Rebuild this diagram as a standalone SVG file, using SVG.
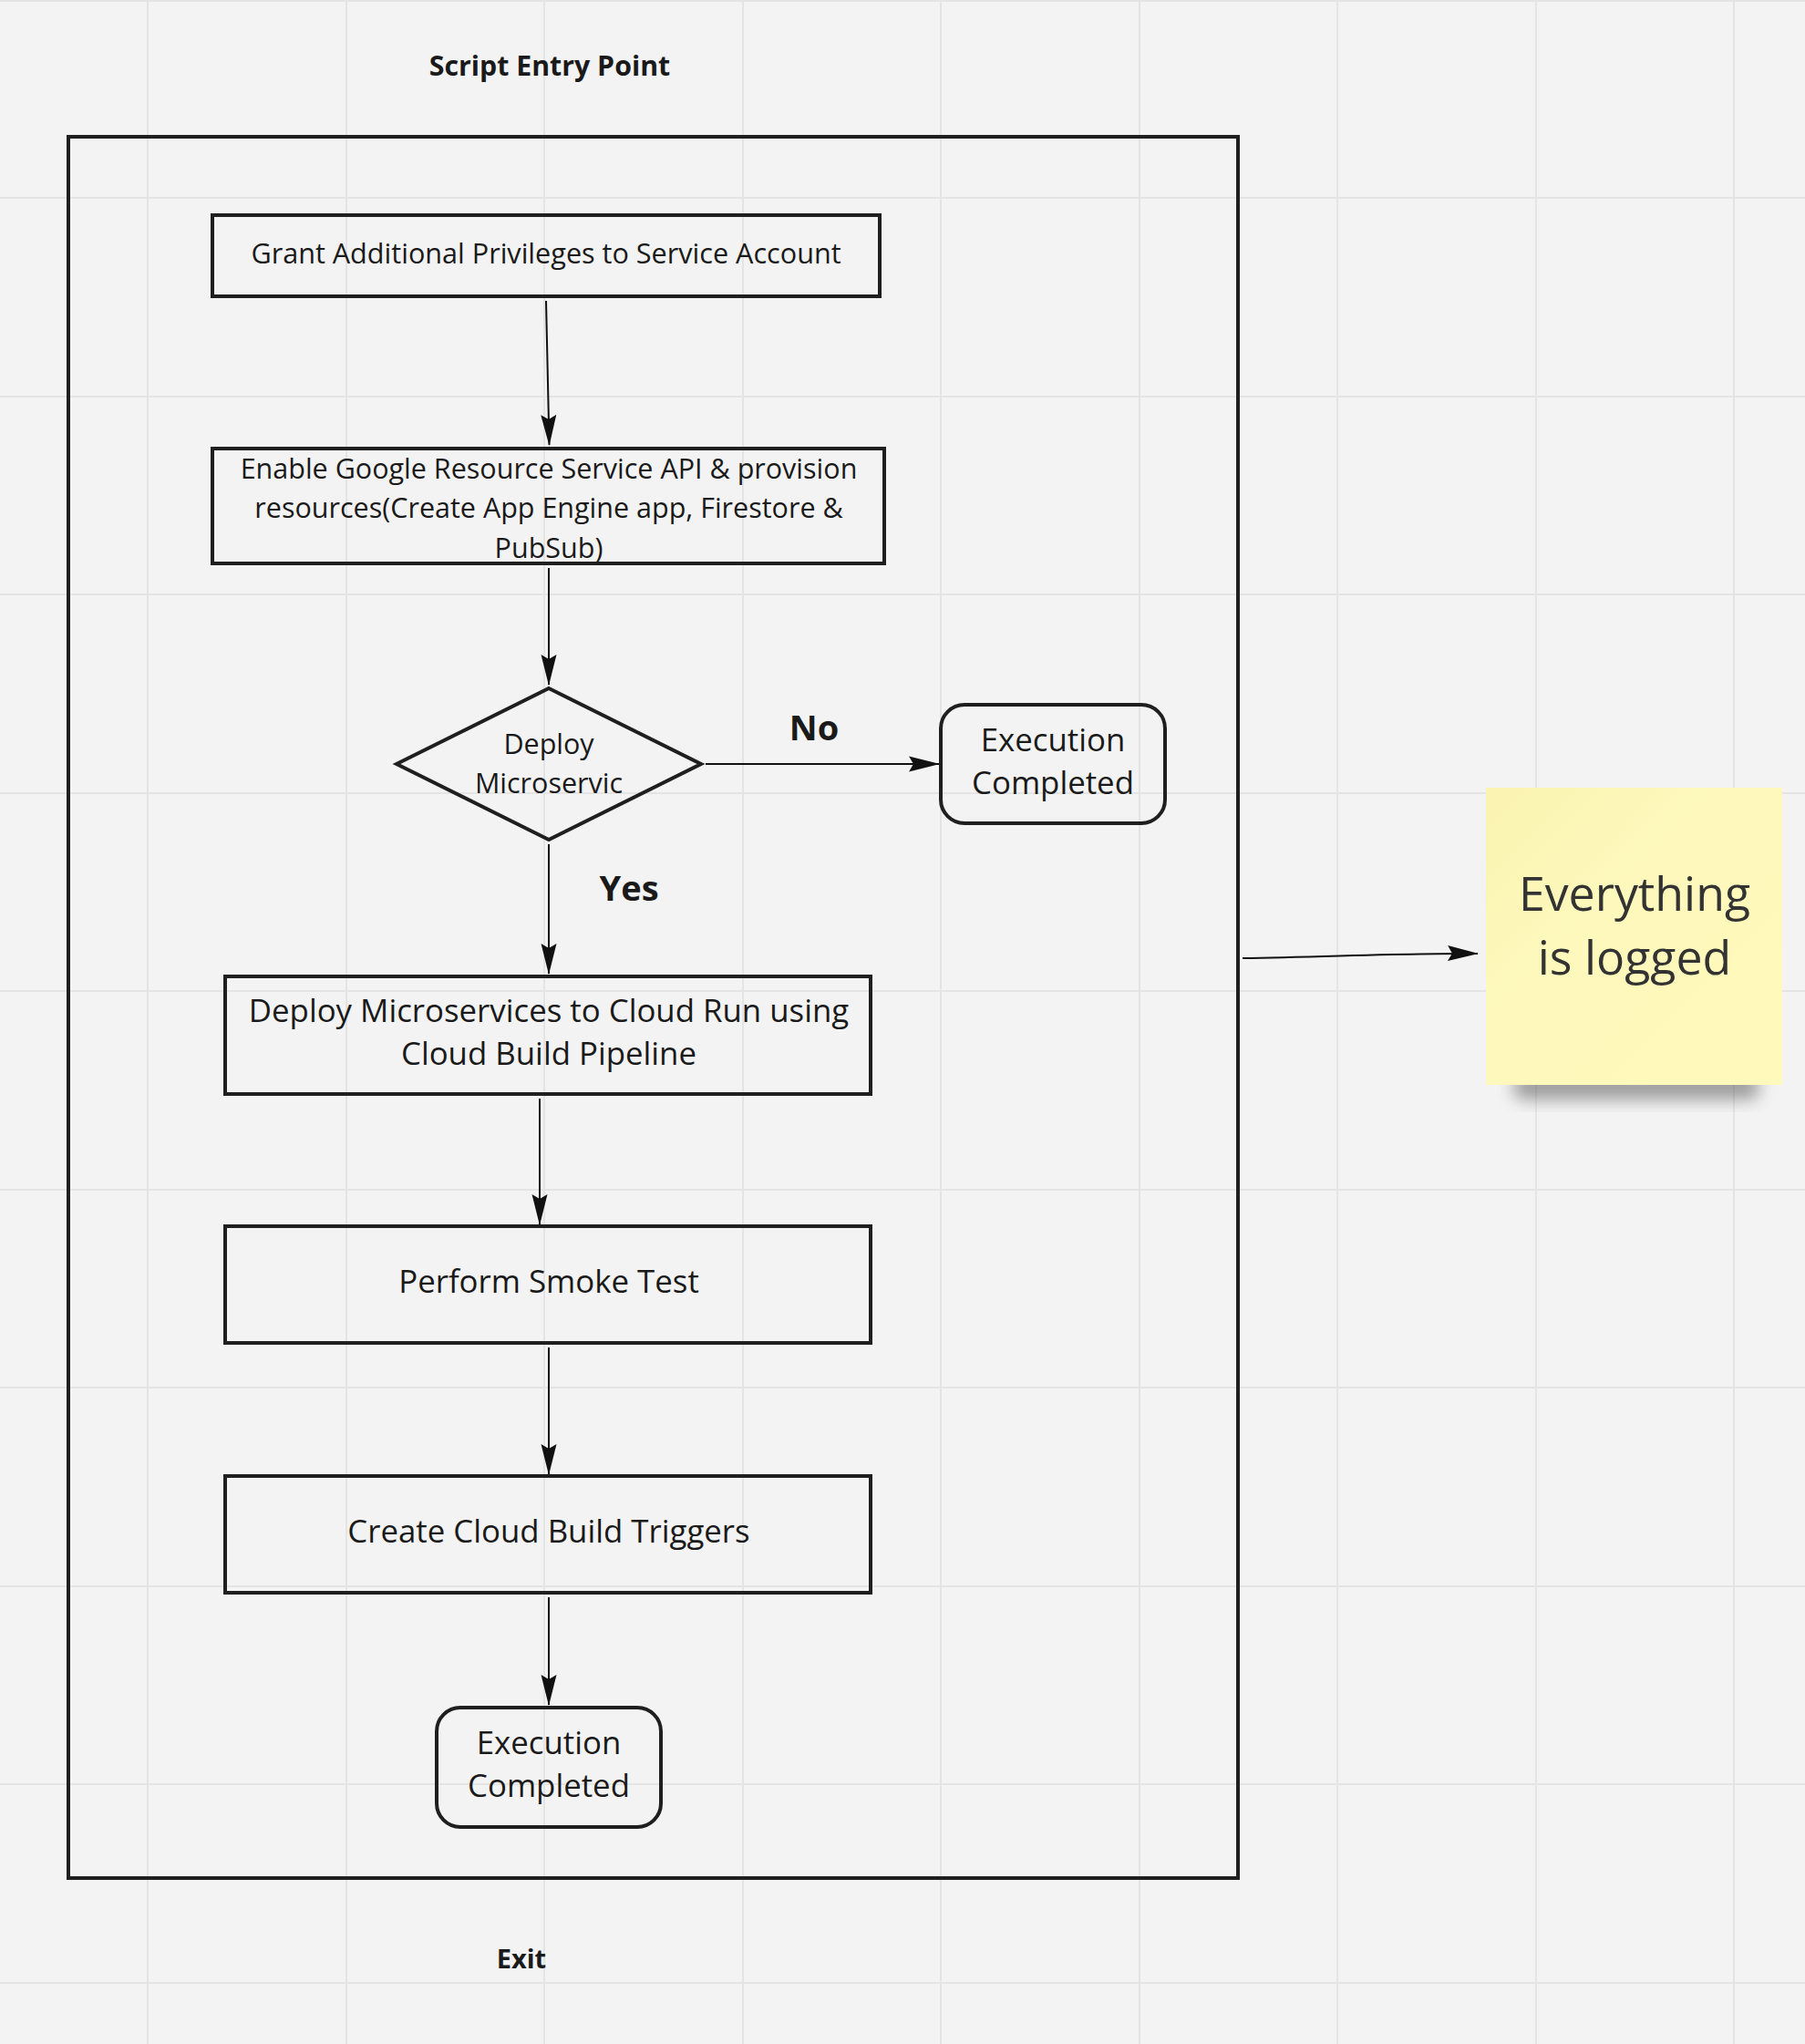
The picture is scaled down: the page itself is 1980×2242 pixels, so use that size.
<svg xmlns="http://www.w3.org/2000/svg" width="1980" height="2242" viewBox="0 0 1980 2242">
<defs>
<style>
.grid{stroke:#e4e4e4;stroke-width:2;fill:none}
.box{fill:none;stroke:#1f1f1f;stroke-width:4}
.conn{fill:none;stroke:#111;stroke-width:2}
.t{font-family:"Open Sans","Noto Sans","DejaVu Sans",sans-serif;fill:#1a1a1a;text-anchor:middle}
.b{font-weight:bold}
</style>
<marker id="ah" markerUnits="userSpaceOnUse" markerWidth="36" markerHeight="20" refX="33" refY="9" orient="auto" viewBox="0 0 36 20">
<path d="M0,0.5 L34,9 L0,17.5 L5,9 Z" fill="#111"/>
</marker>
<linearGradient id="sticky" x1="0" y1="0" x2="1" y2="1">
<stop offset="0" stop-color="#faf3b0"/>
<stop offset="0.35" stop-color="#fdf8bb"/>
<stop offset="1" stop-color="#fff9bb"/>
</linearGradient>
<filter id="sh" x="-20%" y="-50%" width="140%" height="200%">
<feGaussianBlur stdDeviation="9"/>
</filter>
</defs>
<rect width="1980" height="2242" fill="#f3f3f3"/>
<g id="grid">
<path class="grid" d="M162,0V2242M380,0V2242M597,0V2242M815,0V2242M1032,0V2242M1250,0V2242M1467,0V2242M1685,0V2242M1902,0V2242"/>
<path class="grid" d="M0,1H1980M0,217H1980M0,435H1980M0,652H1980M0,870H1980M0,1087H1980M0,1305H1980M0,1522H1980M0,1740H1980M0,1957H1980M0,2175H1980"/>
</g>
<g id="frame">
<rect class="box" x="75" y="150" width="1283" height="1910"/>
</g>
<g id="title"><text class="t b" x="603" y="83" font-size="30.3">Script Entry Point</text></g>
<g id="exit"><text class="t b" x="572" y="2159" font-size="29">Exit</text></g>
<g id="n1">
<rect class="box" x="233" y="236" width="732" height="89"/>
<text class="t" x="599" y="289" font-size="30.6">Grant Additional Privileges to Service Account</text>
</g>
<g id="n2">
<rect class="box" x="233" y="492" width="737" height="126"/>
<text class="t" x="602" y="525" font-size="30.5">Enable Google Resource Service API &amp; provision</text>
<text class="t" x="602" y="568" font-size="30.5">resources(Create App Engine app, Firestore &amp;</text>
<text class="t" x="602" y="612" font-size="30.5">PubSub)</text>
</g>
<g id="n3">
<path class="box" d="M602,755 L769,838 L602,921 L435,838 Z"/>
<text class="t" x="602" y="827" font-size="30.5">Deploy</text>
<text class="t" x="602" y="870" font-size="30.5">Microservic</text>
</g>
<g id="n4">
<rect class="box" x="1032" y="773" width="246" height="130" rx="26"/>
<text class="t" x="1155" y="824" font-size="34.8">Execution</text>
<text class="t" x="1155" y="871" font-size="34.8">Completed</text>
</g>
<g id="n5">
<rect class="box" x="247" y="1071" width="708" height="129"/>
<text class="t" x="602" y="1121" font-size="34.8">Deploy Microservices to Cloud Run using</text>
<text class="t" x="602" y="1168" font-size="34.8">Cloud Build Pipeline</text>
</g>
<g id="n6">
<rect class="box" x="247" y="1345" width="708" height="128"/>
<text class="t" x="602" y="1418" font-size="34.8">Perform Smoke Test</text>
</g>
<g id="n7">
<rect class="box" x="247" y="1619" width="708" height="128"/>
<text class="t" x="602" y="1692" font-size="34.8">Create Cloud Build Triggers</text>
</g>
<g id="n8">
<rect class="box" x="479" y="1873" width="246" height="131" rx="26"/>
<text class="t" x="602" y="1924" font-size="34.8">Execution</text>
<text class="t" x="602" y="1971" font-size="34.8">Completed</text>
</g>
<g id="n9">
<rect x="1660" y="1178" width="270" height="28" rx="12" fill="#555" opacity="0.55" filter="url(#sh)"/>
<rect x="1630" y="864" width="325" height="326" fill="url(#sticky)"/>
<text class="t" x="1793" y="999" font-size="51.8" style="fill:#333">Everything</text>
<text class="t" x="1793" y="1069" font-size="51.8" style="fill:#333">is logged</text>
</g>
<g id="connectors">
<path class="conn" d="M599,330 L602.5,488" marker-end="url(#ah)"/>
<path class="conn" d="M602,623 L602,751" marker-end="url(#ah)"/>
<path class="conn" d="M774,838 L1030,838" marker-end="url(#ah)"/>
<path class="conn" d="M602,926 L602,1068" marker-end="url(#ah)"/>
<path class="conn" d="M592,1205 L592,1343" marker-end="url(#ah)"/>
<path class="conn" d="M602,1478 L602,1617" marker-end="url(#ah)"/>
<path class="conn" d="M602,1752 L602,1870" marker-end="url(#ah)"/>
<path class="conn" d="M1363,1051 C1450,1050 1540,1045 1621,1046" marker-end="url(#ah)"/>
<text class="t b" x="893" y="812" font-size="38">No</text>
<text class="t b" x="690" y="988" font-size="38">Yes</text>
</g>
</svg>
